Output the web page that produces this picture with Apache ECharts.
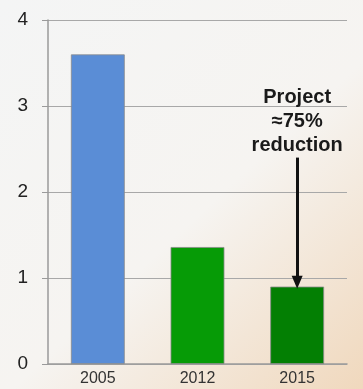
<!DOCTYPE html>
<html>
<head>
<meta charset="utf-8">
<script src="https://cdn.jsdelivr.net/npm/echarts@6/dist/echarts.min.js"></script>
<style>
html, body { margin: 0; padding: 0; }
#chart { width: 363px; height: 389px; }
</style>
</head>
<body>
<div id="chart"></div>
<script>
// 数据放在这里
var years = ['2005', '2012', '2015'];
var values = [3.6, 1.36, 0.9];
var barColors = ['#5a8dd6', '#069b06', '#037f03'];
var yTicks = [0, 1, 2, 3, 4];
var noteLines = ['Project', '≈75%', 'reduction'];
var arrowFrom = 2.4;
var arrowTo = 0.95;
var noteAt = 2.82;

var barData = values.map(function (v, i) {
	return { value: v, itemStyle: { color: barColors[i] } };
});

var option = {
	backgroundColor: {
		type: 'linear', x: 0, y: 0, x2: 1, y2: 1,
		colorStops: [
			{ offset: 0, color: '#f4f5f5' },
			{ offset: 0.55, color: '#f6f4f1' },
			{ offset: 1, color: '#f0d8bd' }
		]
	},
	grid: { left: 48, right: 16, top: 20, bottom: 25 },
	xAxis: {
		type: 'category',
		data: years,
		axisLine: { lineStyle: { color: '#9a9a9a', width: 1.5 } },
		axisTick: { show: false },
		axisLabel: { color: '#333', fontSize: 16, fontFamily: 'Liberation Sans', margin: 7 }
	},
	yAxis: {
		type: 'value',
		min: yTicks[0],
		max: yTicks[yTicks.length - 1],
		interval: 1,
		axisLine: { show: true, lineStyle: { color: '#9a9a9a', width: 1.5 } },
		axisTick: { show: true, length: 6, lineStyle: { color: '#9a9a9a' } },
		axisLabel: { color: '#222', fontSize: 19, fontFamily: 'Liberation Sans', margin: 20 },
		splitLine: { lineStyle: { color: '#a8a8a8', width: 1.2 } }
	},
	series: [
		{
			type: 'bar',
			data: barData,
			barWidth: '54%',
			itemStyle: { borderColor: '#8a8a8a', borderWidth: 0.8 },
			markLine: {
				silent: true,
				symbol: ['none', 'triangle'],
				symbolSize: [11, 13],
				label: { show: false },
				lineStyle: { color: '#111', width: 3, type: 'solid' },
				data: [[
					{ coord: [2, arrowFrom] },
					{ coord: [2, arrowTo] }
				]]
			},
			markPoint: {
				silent: true,
				symbol: 'rect',
				symbolSize: 1,
				itemStyle: { color: 'transparent' },
				label: {
					show: true,
					formatter: noteLines.join('\n'),
					color: '#1a1a1a',
					fontSize: 20,
					fontWeight: 'bold',
					fontFamily: 'Liberation Sans',
					lineHeight: 24,
					align: 'center'
				},
				data: [{ coord: [2, noteAt] }]
			}
		}
	]
};

var chart = echarts.init(document.getElementById('chart'));
chart.setOption(option);
</script>
</body>
</html>
